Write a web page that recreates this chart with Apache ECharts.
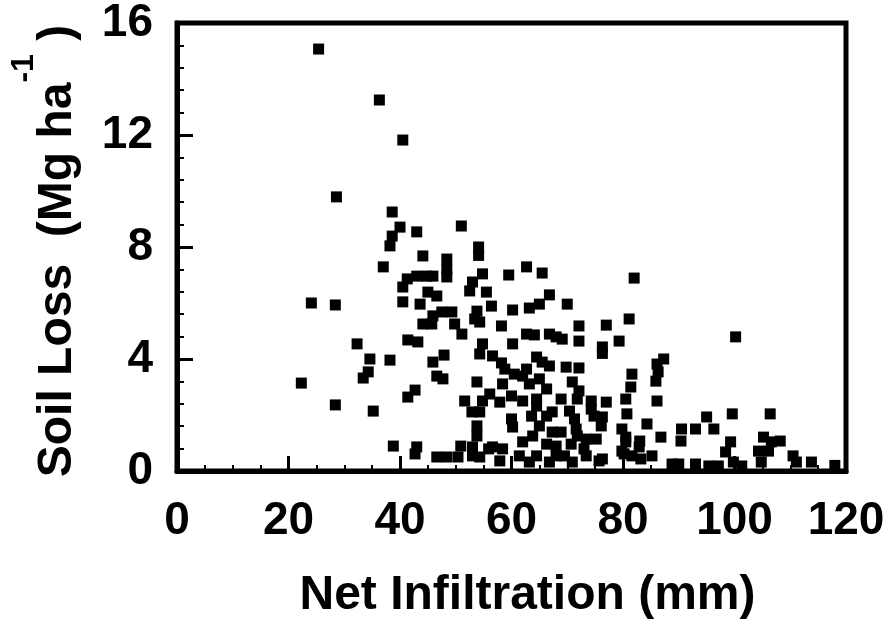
<!DOCTYPE html>
<html>
<head>
<meta charset="utf-8">
<script src="https://cdn.jsdelivr.net/npm/echarts/dist/echarts.min.js"></script>
<style>
html,body{margin:0;padding:0;background:#fff;}
#chart{width:890px;height:625px;}
</style>
</head>
<body>
<div id="chart"></div>
<script>
// Net infiltration (mm)
const infiltration = [
25.4,36.3,40.5,28.6,38.6,40.0,43.0,38.6,38.2,51.0,
44.1,48.4,48.4,48.4,37.0,41.3,43.0,44.8,45.9,40.5,
45.0,46.6,24.1,28.4,40.5,43.6,47.5,49.3,45.9,44.1,
45.7,49.8,32.3,34.6,38.2,34.3,33.4,22.3,28.4,35.2,
41.4,43.2,47.9,45.9,46.6,47.7,42.7,41.4,38.8,43.0,
42.7,46.6,50.4,54.1,54.1,54.8,53.0,52.5,55.5,59.5,
62.7,65.5,82.0,66.8,65.0,63.2,60.2,70.0,56.4,53.8,
53.4,54.3,58.2,51.1,72.1,77.0,81.1,79.3,62.7,64.1,
66.8,68.0,69.1,72.1,60.2,54.8,76.3,54.3,56.6,64.5,
65.5,69.8,72.1,58.8,81.6,62.0,63.2,53.8,56.1,58.4,
70.9,72.1,81.4,66.3,60.0,62.0,64.5,68.9,74.3,77.0,
80.5,51.6,54.8,52.9,60.0,63.6,67.3,70.4,74.8,76.1,
80.7,53.8,60.2,65.0,71.6,79.8,53.0,56.6,62.0,66.3,
70.7,73.4,75.2,54.3,61.4,64.5,68.0,73.4,75.7,80.2,
80.5,48.4,57.9,63.2,66.8,70.9,76.3,100.2,87.3,86.1,
86.3,85.9,86.1,76.3,84.3,80.5,86.8,83.0,82.9,90.5,
90.4,93.0,95.0,96.3,99.6,106.4,99.3,98.4,105.2,106.6,
108.2,104.3,106.1,79.8,81.6,85.2,76.3,88.8,90.0,93.0,
95.4,97.1,99.8,101.3,104.8,110.5,111.1,113.8,118.0,
58.2,60.5,62.7,65.0,66.8,57.9,54.3,53.8,64.5,66.3,
67.3,63.8,50.9,55.9,53.0,58.4,68.0,71.8,74.3,71.3,
68.9,71.8,69.5,73.0,83.2
];
// Soil loss (Mg ha-1)
const soilLoss = [
15.07,13.25,11.82,9.79,9.25,8.71,8.54,8.39,8.04,8.75,
7.68,7.57,7.21,6.93,7.29,6.86,6.96,6.96,6.96,6.57,
6.39,6.25,6.00,5.93,6.04,5.96,5.68,5.68,5.54,5.25,
5.25,5.25,4.54,4.00,3.96,3.54,3.32,3.14,2.36,2.14,
4.68,4.61,4.14,3.89,3.39,3.29,2.89,2.64,0.89,0.86,
0.61,0.50,0.50,8.00,7.70,7.04,6.75,6.43,6.39,7.00,
7.29,7.07,6.89,6.29,5.96,5.82,5.75,5.96,5.89,5.71,
5.43,5.32,5.18,4.89,5.18,5.21,5.43,4.64,4.89,4.86,
4.89,4.79,4.71,4.64,4.54,4.54,4.43,4.18,4.11,4.07,
3.89,3.71,3.68,3.64,3.46,3.39,3.11,3.18,2.75,3.11,
3.18,2.86,3.00,2.93,2.68,2.50,2.57,2.57,2.50,2.46,
2.57,2.50,2.50,2.11,1.86,1.96,2.11,2.14,1.96,1.61,
2.04,1.61,1.57,1.61,1.50,1.50,0.86,0.86,1.04,0.96,
0.96,1.14,1.14,0.50,0.54,0.54,0.54,0.54,0.36,0.61,
1.04,0.50,0.36,0.32,0.32,0.32,4.20,4.79,4.00,3.82,
3.54,3.21,2.50,1.93,1.68,1.21,1.21,1.07,0.86,1.50,
1.07,1.50,1.93,1.50,2.04,2.04,1.04,0.68,1.21,1.04,
1.07,0.71,0.71,0.71,0.54,0.54,0.43,0.25,0.25,0.25,
0.18,0.18,0.32,0.18,0.32,0.54,0.32,0.32,0.20,
3.86,3.46,3.64,3.29,3.75,2.46,2.11,1.25,2.32,1.96,
1.39,1.25,0.89,0.79,0.54,0.79,0.89,2.57,2.21,1.86,
1.39,1.25,0.54,0.79,0.43
];
const xTicks = [0, 20, 40, 60, 80, 100, 120];
const yTicks = [0, 4, 8, 12, 16];

const FONT = '"Liberation Sans", Arial, Helvetica, sans-serif';
const points = infiltration.map((x, i) => [x, soilLoss[i]]);

const chart = echarts.init(document.getElementById('chart'), null, {renderer: 'canvas'});
chart.setOption({
  animation: false,
  backgroundColor: '#fff',
  grid: {left: 175, right: 44, top: 23, bottom: 153, show: true, borderColor: '#000', borderWidth: 5, backgroundColor: 'transparent'},
  xAxis: {
    type: 'value', min: xTicks[0], max: xTicks[xTicks.length - 1], interval: 20,
    axisLine: {show: true, onZero: false, lineStyle: {color: '#000', width: 5}},
    axisTick: {show: true, inside: true, length: 15, lineStyle: {color: '#000', width: 3}},
    minorTick: {show: true, splitNumber: 4, length: 6, lineStyle: {color: '#000', width: 2}},
    splitLine: {show: false},
    axisLabel: {margin: 27, fontSize: 46, fontWeight: 'bold', color: '#000', fontFamily: FONT},
    name: 'Net Infiltration (mm)', nameLocation: 'middle', nameGap: 101,
    nameTextStyle: {fontSize: 48, fontWeight: 'bold', color: '#000', fontFamily: FONT, padding: [0, 0, 0, 32]}
  },
  yAxis: {
    type: 'value', min: yTicks[0], max: yTicks[yTicks.length - 1], interval: 4,
    axisLine: {show: true, onZero: false, lineStyle: {color: '#000', width: 5}},
    axisTick: {show: true, inside: true, length: 16, lineStyle: {color: '#000', width: 3}},
    minorTick: {show: true, splitNumber: 5, length: 7, lineStyle: {color: '#000', width: 2}},
    splitLine: {show: false},
    axisLabel: {margin: 24, fontSize: 46, fontWeight: 'bold', color: '#000', fontFamily: FONT},
    name: '{a|Soil Loss  (Mg ha}{s|-1}{a| )}', nameLocation: 'middle', nameGap: 69,
    nameTextStyle: {
      color: '#000',
      padding: [0, 8, 0, 0],
      rich: {
        a: {fontSize: 48, fontWeight: 'bold', color: '#000', fontFamily: FONT, lineHeight: 100},
        s: {fontSize: 32, fontWeight: 'bold', color: '#000', fontFamily: FONT, lineHeight: 34, verticalAlign: 'top'}
      }
    }
  },
  series: [{
    type: 'scatter',
    symbol: 'rect',
    symbolSize: 11,
    clip: false,
    itemStyle: {color: '#000', opacity: 1},
    data: points
  }]
});
</script>
</body>
</html>
